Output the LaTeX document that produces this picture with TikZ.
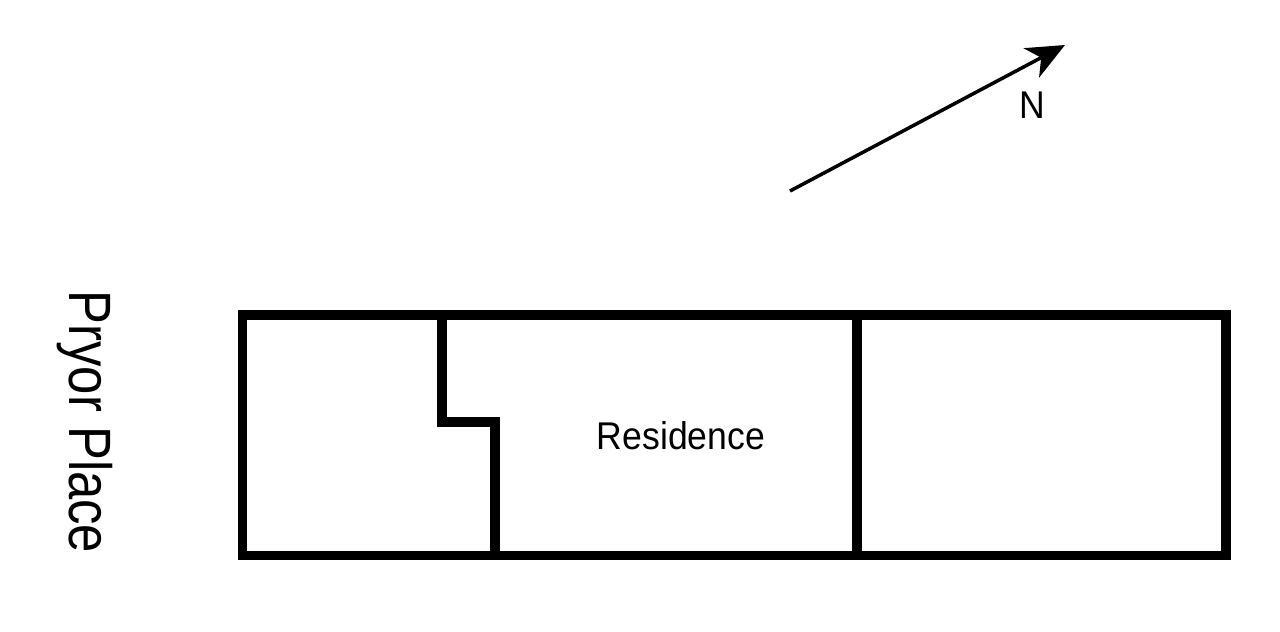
\documentclass[tikz,border=0pt]{standalone}
\usepackage{fontspec}
\newfontfamily\labelfont[FakeStretch=0.92]{Liberation Sans}
\newfontfamily\streetfont[FakeStretch=0.85]{Liberation Sans}
\usetikzlibrary{arrows.meta,positioning}

\tikzset{
  wall/.style={line width=0.095cm, line join=miter},
  pointer/.style={line width=0.035cm, -{Stealth[length=0.38cm,width=0.33cm,inset=0.11cm]}},
}

\begin{document}
\begin{tikzpicture}
      \useasboundingbox (0, 0) rectangle (12.8, 6.31);

      \draw[wall] (2.425, 0.755) rectangle (12.26, 3.16);
      \draw[wall] (4.42, 3.16) -- (4.42, 2.09) -- (4.95, 2.09) -- (4.95, 0.755);
      \draw[wall] (8.57, 3.16) -- (8.57, 0.755);

      \node[font=\labelfont\fontsize{11}{13}\selectfont] (residence) at (6.81, 1.95) {Residence};
      \node[font=\streetfont\fontsize{17}{20}\selectfont, rotate=-90] (street) at (0.85, 2.09) {Pryor Place};

      \coordinate (tail) at (7.9, 4.4);
      \coordinate (head) at (10.65, 5.86);
      \draw[pointer] (tail) -- (head);
      \node[font=\labelfont\fontsize{11}{13}\selectfont] (north) at (10.32, 5.26) {N};
    \end{tikzpicture}
\end{document}
